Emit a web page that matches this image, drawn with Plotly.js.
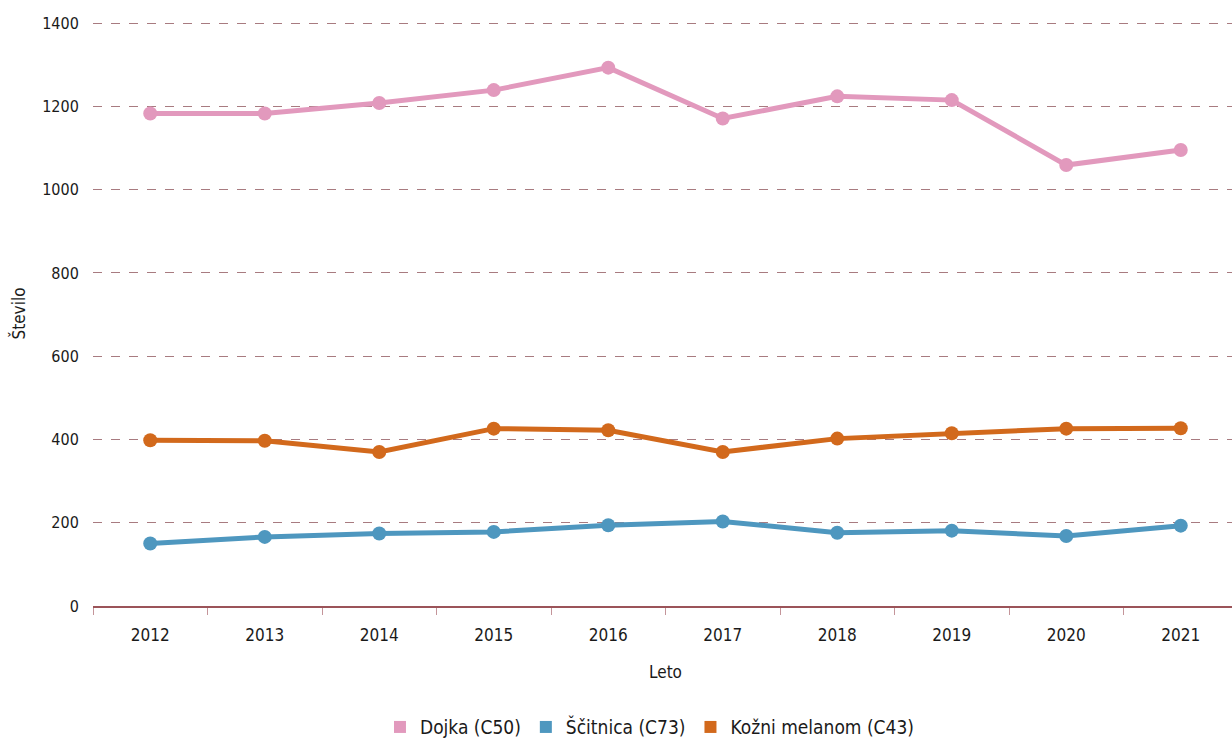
<!DOCTYPE html>
<html>
<head>
<meta charset="utf-8">
<script src="https://cdn.plot.ly/plotly-3.0.1.min.js"></script>
<style>html,body{margin:0;padding:0;overflow:hidden;background:#fff;}#chart{width:1238px;height:740px;}</style>
</head>
<body>
<div id="chart"></div>
<script>
const years = ["2012","2013","2014","2015","2016","2017","2018","2019","2020","2021"];
const dojka = [1183, 1183, 1208, 1239, 1293, 1171, 1224, 1215, 1059, 1095];
const scitnica = [150, 166, 174, 178, 194, 203, 176, 181, 168, 193];
const melanom = [398, 397, 370, 426, 422, 370, 402, 415, 426, 427];
const seriesNames = ["Dojka (C50)", "Ščitnica (C73)", "Kožni melanom (C43)"];
const colors = ["#e299bd", "#4e97bf", "#d2691c"];
const yTicks = [0, 200, 400, 600, 800, 1000, 1200, 1400];

const FONT = '"DejaVu Sans Condensed", "Liberation Sans Narrow", sans-serif';
const seriesData = [dojka, scitnica, melanom];
const traces = [];
seriesData.forEach((d, i) => {
  traces.push({
    x: years, y: d, type: 'scatter', mode: 'lines+markers',
    name: seriesNames[i], showlegend: false,
    line: {color: colors[i], width: 5},
    marker: {color: colors[i], size: 14},
    hoverinfo: 'x+y'
  });
});
seriesData.forEach((d, i) => {
  traces.push({
    x: [null], y: [null], type: 'scatter', mode: 'markers',
    name: seriesNames[i], showlegend: true,
    marker: {color: colors[i], symbol: 'square', size: 18}
  });
});

const layout = {
  width: 1238, height: 740,
  margin: {l: 93, r: 0, t: 21, b: 134, autoexpand: false},
  paper_bgcolor: '#ffffff', plot_bgcolor: '#ffffff',
  font: {family: FONT, size: 16, color: '#1a1a1a'},
  showlegend: true,
  legend: {orientation: 'h', x: 0.486, xanchor: 'center', y: -0.207, yanchor: 'middle',
           font: {family: FONT, size: 19, color: '#1a1a1a'}, itemsizing: 'constant',
           traceorder: 'normal', itemwidth: 30},
  xaxis: {
    type: 'category', categoryarray: years, range: [-0.5, 9.5], automargin: false,
    showgrid: false, zeroline: false,
    showline: true, linecolor: '#9b5459', linewidth: 2,
    ticks: 'outside', tickson: 'boundaries', ticklen: 7, tickcolor: '#c4959a', tickwidth: 1,
    ticklabelstandoff: 13,
    tickfont: {family: FONT, size: 17, color: '#1a1a1a'},
    title: {text: 'Leto', font: {family: FONT, size: 17, color: '#1a1a1a'}, standoff: 22}
  },
  yaxis: {
    range: [0, 1405], tickvals: yTicks, ticktext: yTicks.map(String), automargin: false,
    showgrid: true, gridcolor: '#a87b80', griddash: 'dash', gridwidth: 1,
    zeroline: false, showline: false,
    ticks: 'outside', ticklen: 10, tickcolor: 'rgba(0,0,0,0)',
    tickfont: {family: FONT, size: 16, color: '#1a1a1a'},
    title: {text: 'Število', font: {family: FONT, size: 17, color: '#1a1a1a'}, standoff: 12}
  }
};
Plotly.newPlot('chart', traces, layout, {displayModeBar: false, responsive: false});
</script>
</body>
</html>
